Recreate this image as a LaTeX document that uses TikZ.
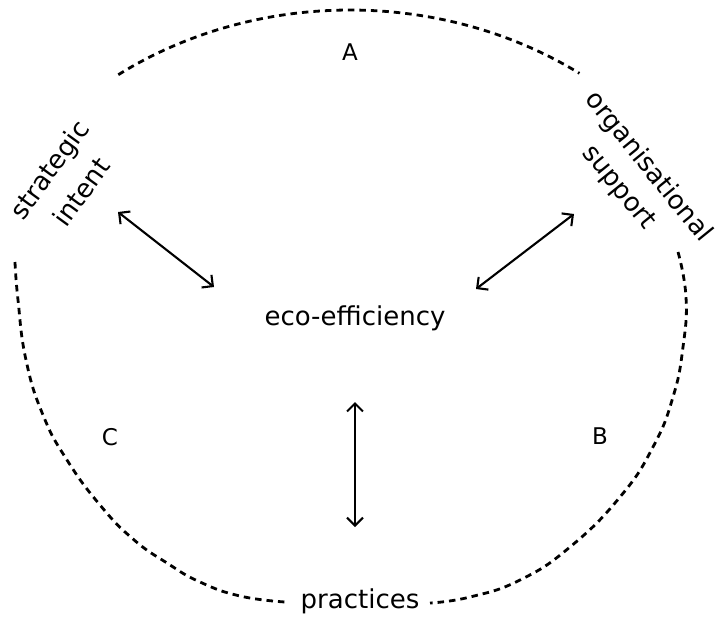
\documentclass[tikz,border=0pt]{standalone}
\usepackage{fontspec}
\setmainfont{DejaVu Sans}
\usetikzlibrary{arrows.meta}
\tikzset{barb/.tip={Straight Barb[length=8pt,width=16pt,line width=2.1pt]}}
\begin{document}
\begin{tikzpicture}[x=1pt,y=-1pt,
  boundary/.style={line width=2.8pt,dash pattern=on 6.5pt off 5pt},
  link/.style={line width=2.1pt,barb-barb},
  lbl/.style={font=\fontsize{23}{26}\selectfont,inner sep=0pt},
  word/.style={font=\fontsize{26}{30}\selectfont,inner sep=0pt}]
\useasboundingbox (0,0) rectangle (715,625);

% dashed outline, broken by the side labels
\draw[boundary] plot[domain=125.4:55,samples=60,smooth] ({350+400*cos(\x)},{360-350*sin(\x)});
\draw[boundary,smooth,tension=0.8] plot coordinates {(678,252) (686,297) (683,347) (673,397) (653,447) (620,497) (570,547) (520,580) (470,597) (430,603)};
\draw[boundary,smooth,tension=0.8] plot coordinates {(15,262) (18,300) (26,360) (43,415) (67,460) (100,505) (133,539) (167,563) (200,582) (240,596) (285,602)};

% labels
\node[word] (eco) at (355,318) {eco-efficiency};
\node[word] (prac) at (360,601) {practices};
\node[lbl] (a) at (350,52) {A};
\node[lbl] (b) at (600,436) {B};
\node[lbl] (c) at (110,437) {C};
\node[word,rotate=54] (si1) at (51,171) {strategic};
\node[word,rotate=54] (si2) at (81,192) {intent};
\node[word,rotate=-51] (os1) at (648,167) {organisational};
\node[word,rotate=-51] (os2) at (618,188) {support};

% two-way links
\coordinate (l1) at (118,212);
\coordinate (l2) at (214,287);
\coordinate (r1) at (574,214);
\coordinate (r2) at (476,289);
\coordinate (v1) at (355,402);
\coordinate (v2) at (355,527);
\draw[link] (l1) -- (l2);
\draw[link] (r1) -- (r2);
\draw[link] (v1) -- (v2);
\end{tikzpicture}
\end{document}
